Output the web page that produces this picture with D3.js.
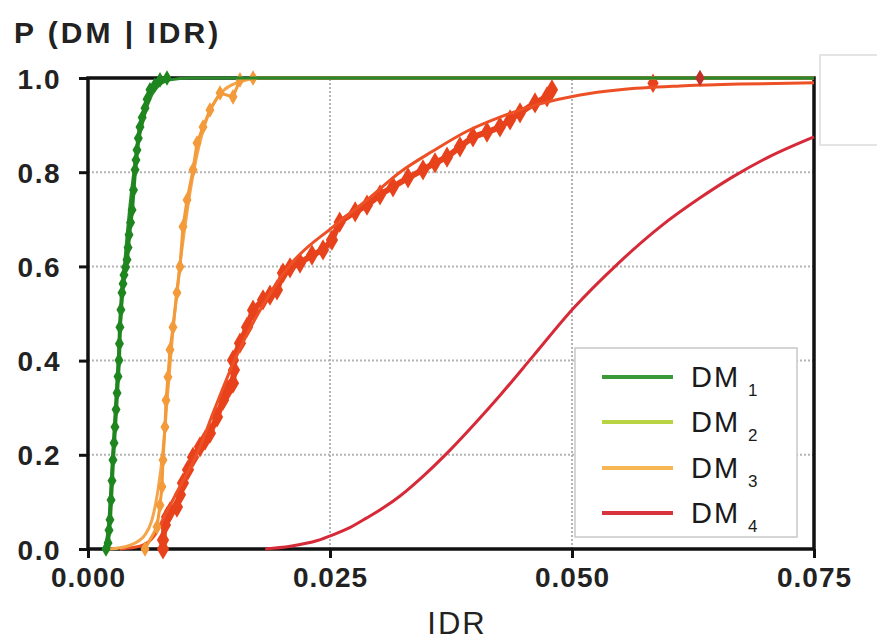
<!DOCTYPE html>
<html><head><meta charset="utf-8">
<script src="https://cdn.jsdelivr.net/npm/d3@7"></script>
<style>body{margin:0;background:#fff}svg{display:block}text{font-family:"Liberation Sans",Arial,sans-serif}</style>
</head><body>
<svg id="c" width="877" height="641"></svg>
<script>
// ---- data ----
const xTicks = [0, 0.025, 0.05, 0.075];
const xTickLabels = ["0.000", "0.025", "0.050", "0.075"];
const yTicks = [0, 0.2, 0.4, 0.6, 0.8, 1.0];
const yTickLabels = ["0.0", "0.2", "0.4", "0.6", "0.8", "1.0"];
const legendNames = ["1", "2", "3", "4"];
const legendColors = ["#3a9a3a", "#b9d443", "#f7b553", "#d8343e"];

// DM1 empirical
const dm1ObsIdr = [0.00186,0.00207,0.00217,0.00227,0.00238,0.00248,0.00258,0.00269,0.00279,0.0029,0.003,0.0031,0.0032,0.00325,0.0033,0.0034,0.00351,0.00362,0.00372,0.00388,0.00403,0.00414,0.00424,0.0044,0.00455,0.0047,0.00486,0.00496,0.00506,0.0052,0.00537,0.0056,0.00589,0.0061,0.0064,0.0069,0.00744,0.00816];
const dm1ObsP   = [0,0.013,0.04,0.062,0.104,0.145,0.189,0.225,0.259,0.296,0.331,0.366,0.401,0.436,0.471,0.508,0.544,0.563,0.582,0.598,0.614,0.64,0.667,0.693,0.72,0.762,0.805,0.826,0.847,0.872,0.896,0.916,0.936,0.955,0.975,0.985,0.996,1.0];
// DM1 fit
const dm1FitIdr = [0.00165,0.00207,0.00248,0.00289,0.0033,0.00382,0.00434,0.00506,0.00589,0.00692,0.00847,0.0105,0.075];
const dm1FitP   = [0,0.04,0.168,0.316,0.465,0.614,0.73,0.847,0.926,0.975,0.996,1.0,1.0];

// DM3 empirical
const dm3ObsIdr = [0.00589,0.00713,0.00744,0.00764,0.00775,0.00795,0.00806,0.00826,0.00847,0.00878,0.00919,0.0095,0.00981,0.01023,0.01085,0.01126,0.01188,0.0126,0.01364,0.01498,0.0157,0.01705];
const dm3ObsP   = [0,0.047,0.093,0.132,0.189,0.259,0.316,0.365,0.423,0.471,0.544,0.599,0.684,0.741,0.805,0.862,0.896,0.932,0.968,0.96,0.996,1.0];
// DM3 fit
const dm3FitIdr = [0.00227,0.00434,0.00589,0.00661,0.00723,0.00775,0.00826,0.00878,0.0095,0.01033,0.01126,0.0124,0.01384,0.0157,0.01777,0.075];
const dm3FitP   = [0,0.008,0.03,0.062,0.125,0.21,0.338,0.465,0.603,0.73,0.837,0.921,0.97,0.992,1.0,1.0];

// DM2 empirical (red-orange)
const dm2ObsIdr = [0.00775,0.00775,0.00795,0.00816,0.00847,0.00919,0.0095,0.00981,0.01033,0.01085,0.01157,0.01209,0.0126,0.01333,0.01395,0.01446,0.01498,0.01508,0.01498,0.0157,0.01643,0.01705,0.01808,0.0188,0.01952,0.02014,0.02087,0.0219,0.02314,0.02428,0.0252,0.026,0.0276,0.02882,0.03017,0.03151,0.03306,0.03461,0.03585,0.03709,0.03843,0.03977,0.04122,0.04256,0.0436,0.04463,0.04618,0.04742,0.04793];
const dm2ObsP   = [0,0.019,0.051,0.068,0.079,0.089,0.115,0.14,0.168,0.195,0.217,0.231,0.246,0.28,0.316,0.338,0.352,0.38,0.401,0.437,0.471,0.507,0.529,0.539,0.55,0.586,0.597,0.607,0.624,0.635,0.656,0.694,0.716,0.73,0.752,0.769,0.788,0.805,0.82,0.832,0.854,0.875,0.885,0.896,0.911,0.926,0.947,0.96,0.975];
const dm2ObsExtraIdr = [0.05837];
const dm2ObsExtraP = [0.989];
// DM2 fit
const dm2FitIdr = [0.00331,0.00537,0.00692,0.00795,0.0093,0.01126,0.01312,0.01519,0.01777,0.02087,0.02531,0.02882,0.03223,0.03564,0.03915,0.04256,0.0467,0.05083,0.05496,0.06116,0.06736,0.075];
const dm2FitP   = [0,0.006,0.03,0.072,0.125,0.202,0.299,0.403,0.507,0.603,0.684,0.741,0.8,0.845,0.887,0.917,0.945,0.964,0.975,0.983,0.987,0.99];

// DM4 fit
const dm4FitIdr = [0.0183,0.0209,0.0237,0.0253,0.0271,0.0288,0.0307,0.0322,0.0348,0.0374,0.0400,0.0426,0.0460,0.0501,0.0547,0.0591,0.0632,0.0666,0.0701,0.075];
const dm4FitP   = [0,0.006,0.018,0.03,0.046,0.066,0.09,0.112,0.158,0.21,0.267,0.327,0.41,0.51,0.605,0.684,0.745,0.79,0.83,0.875];
const dm4ObsIdr = [0.06322];
const dm4ObsP = [1.0];

// ---- drawing ----
const svg = d3.select("#c");
const x = d3.scaleLinear().domain([0, 0.075]).range([88, 814]);
const y = d3.scaleLinear().domain([0, 1]).range([549, 78]);
const zip = (a, b) => a.map((v, i) => [v, b[i]]);

// stray box at right top
svg.append("path").attr("d", "M877,55 H820 V145 H877").attr("fill", "none").attr("stroke", "#dcdcdc").attr("stroke-width", 1.5);

// grid
const grid = svg.append("g");
grid.selectAll(".hg").data([0.2, 0.4, 0.6, 0.8]).join("line")
  .attr("x1", x(0)).attr("x2", x(0.075)).attr("y1", d => y(d)).attr("y2", d => y(d))
  .attr("stroke", "#b4b4b4").attr("stroke-width", 2).attr("stroke-dasharray", "2,2");
grid.selectAll(".vg").data([0.025, 0.05]).join("line")
  .attr("y1", y(0)).attr("y2", y(1)).attr("x1", d => x(d)).attr("x2", d => x(d))
  .attr("stroke", "#b4b4b4").attr("stroke-width", 2).attr("stroke-dasharray", "2,2");

// frame
svg.append("rect").attr("x", x(0)).attr("y", y(1)).attr("width", x(0.075) - x(0)).attr("height", y(0) - y(1))
  .attr("fill", "none").attr("stroke", "#111").attr("stroke-width", 3.5);

// axes
const xAxis = d3.axisBottom(x).tickValues(xTicks).tickFormat((d, i) => xTickLabels[i]).tickSize(9).tickPadding(8);
const gx = svg.append("g").attr("transform", `translate(0,${y(0)})`).call(xAxis);
gx.select(".domain").remove();
gx.selectAll("line").attr("stroke", "#111").attr("stroke-width", 3);
gx.selectAll("text").attr("font-size", 28).attr("font-weight", "bold").attr("fill", "#222").attr("dy", "0.75em").attr("letter-spacing", 1);

const yAxis = d3.axisLeft(y).tickValues(yTicks).tickFormat((d, i) => yTickLabels[i]).tickSize(9).tickPadding(18);
const gy = svg.append("g").attr("transform", `translate(${x(0)},0)`).call(yAxis);
gy.select(".domain").remove();
gy.selectAll("line").attr("stroke", "#111").attr("stroke-width", 3);
gy.selectAll("text").attr("font-size", 28).attr("font-weight", "bold").attr("fill", "#222").attr("dy", "0.36em").attr("letter-spacing", 1.5);

const line = d3.line().x(d => x(d[0])).y(d => y(d[1]));
const smooth = d3.line().x(d => x(d[0])).y(d => y(d[1])).curve(d3.curveMonotoneX);

function obs(data, color, size, w) {
  svg.append("path").datum(data).attr("d", line).attr("fill", "none").attr("stroke", color).attr("stroke-width", w);
  svg.append("g").selectAll("path").data(data).join("path")
    .attr("transform", d => `translate(${x(d[0])},${y(d[1])})`)
    .attr("d", d3.symbol(d3.symbolDiamond, size)).attr("fill", color);
}
function fit(data, color, w) {
  svg.append("path").datum(data).attr("d", smooth).attr("fill", "none").attr("stroke", color).attr("stroke-width", w);
}

// DM4
fit(zip(dm4FitIdr, dm4FitP), "#d62a38", 3);
// DM2 (red-orange)
obs(zip(dm2ObsIdr, dm2ObsP), "#e8421c", 130, 6);
obs(zip(dm2ObsExtraIdr, dm2ObsExtraP), "#e8421c", 110, 1);
fit(zip(dm2FitIdr, dm2FitP), "#ee5026", 3);
// DM3
fit(zip(dm3FitIdr, dm3FitP), "#f4a44a", 3);
obs(zip(dm3ObsIdr, dm3ObsP), "#f39a3a", 70, 3);
// DM1
fit(zip(dm1FitIdr, dm1FitP), "#2a8a2a", 3);
obs(zip(dm1ObsIdr, dm1ObsP), "#1f861f", 70, 4);
obs(zip(dm4ObsIdr, dm4ObsP), "#c0302a", 80, 1);

// legend
const lg = svg.append("g");
lg.append("rect").attr("x", 575).attr("y", 348).attr("width", 222).attr("height", 189)
  .attr("fill", "#fff").attr("stroke", "#c8c8c8").attr("stroke-width", 1.5);
const ly = [377, 422, 468, 513];
legendNames.forEach((n, i) => {
  lg.append("line").attr("x1", 602).attr("x2", 673).attr("y1", ly[i]).attr("y2", ly[i])
    .attr("stroke", legendColors[i]).attr("stroke-width", 4);
  const t = lg.append("text").attr("x", 691).attr("y", ly[i] + 10).attr("font-size", 29).attr("fill", "#1a1a1a");
  t.append("tspan").text("DM").attr("letter-spacing", 2);
  t.append("tspan").text(n).attr("font-size", 17).attr("dx", 8).attr("dy", 9);
});

// titles
svg.append("text").attr("x", 14).attr("y", 43).attr("font-size", 30).attr("font-weight", "bold").attr("fill", "#222")
  .attr("letter-spacing", 3).text("P (DM | IDR)");
svg.append("text").attr("x", 457).attr("y", 634).attr("text-anchor", "middle").attr("font-size", 31).attr("fill", "#222")
  .attr("letter-spacing", 2).text("IDR");
</script>
</body></html>
